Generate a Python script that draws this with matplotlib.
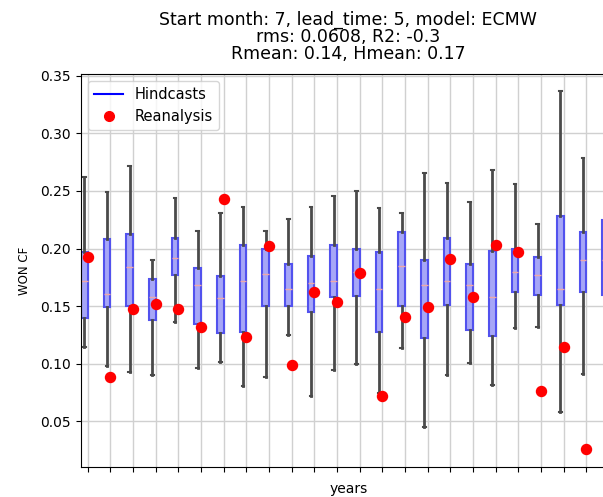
import matplotlib
matplotlib.use("Agg")
import matplotlib.pyplot as plt
from matplotlib.lines import Line2D
import numpy as np

# hindcast ensemble summary per year (whisker low, q1, median, q3, whisker high)
years = np.arange(1993, 2017)
whis_lo = [0.115, 0.098, 0.093, 0.090, 0.136, 0.096, 0.102, 0.081, 0.089, 0.125,
           0.072, 0.095, 0.100, 0.075, 0.114, 0.045, 0.090, 0.101, 0.082, 0.131,
           0.132, 0.058, 0.091, 0.110]
q1 = [0.140, 0.149, 0.150, 0.138, 0.177, 0.135, 0.127, 0.128, 0.150, 0.150,
      0.145, 0.158, 0.159, 0.128, 0.150, 0.122, 0.151, 0.129, 0.124, 0.162,
      0.160, 0.151, 0.162, 0.160]
median = [0.172, 0.161, 0.184, 0.158, 0.192, 0.168, 0.157, 0.172, 0.178, 0.165,
          0.170, 0.172, 0.180, 0.165, 0.185, 0.168, 0.172, 0.168, 0.158, 0.180,
          0.177, 0.165, 0.190, 0.190]
q3 = [0.197, 0.208, 0.213, 0.174, 0.209, 0.183, 0.176, 0.203, 0.200, 0.187,
      0.194, 0.203, 0.200, 0.197, 0.214, 0.190, 0.209, 0.187, 0.198, 0.200,
      0.193, 0.228, 0.214, 0.225]
whis_hi = [0.262, 0.249, 0.272, 0.190, 0.244, 0.215, 0.231, 0.236, 0.215, 0.226,
           0.236, 0.246, 0.250, 0.235, 0.231, 0.266, 0.257, 0.240, 0.268, 0.256,
           0.221, 0.337, 0.279, 0.300]

# reanalysis value per year
reanalysis = [0.193, 0.089, 0.148, 0.152, 0.148, 0.132, 0.243, 0.123, 0.202, 0.099,
              0.162, 0.154, 0.179, 0.072, 0.141, 0.149, 0.191, 0.158, 0.203, 0.197,
              0.076, 0.115, 0.026, 0.093]

title = ("Start month: 7, lead_time: 5, model: ECMW\n"
         "rms: 0.0608, R2: -0.3\n"
         "Rmean: 0.14, Hmean: 0.17")

fig = plt.figure(figsize=(6.03, 4.97), dpi=100)
# axes runs a little past the right edge, as in the reference crop
ax = fig.add_axes([0.134, 0.0604, 0.8876, 0.7907])

stats = []
for i in range(len(years)):
    stats.append({"whislo": whis_lo[i], "q1": q1[i], "med": median[i],
                  "q3": q3[i], "whishi": whis_hi[i], "fliers": []})

pos = np.arange(len(years))
ax.bxp(stats, positions=pos - 0.15, widths=0.3, patch_artist=True,
       showfliers=False, manage_ticks=False,
       boxprops=dict(facecolor="#a6a6f7", edgecolor="#5252ee", linewidth=1.5),
       medianprops=dict(color="#f0a8a8", linewidth=1.0),
       whiskerprops=dict(color="#4a4a4a", linewidth=2.0),
       capprops=dict(color="#4a4a4a", linewidth=1.5),
       capwidths=0.12)

ax.scatter(pos, reanalysis, s=52, color="red", zorder=3, label="Reanalysis")

ax.set_xticks(pos)
ax.set_xticklabels([])
ax.set_xlim(-0.31, len(years) - 1 + 0.31)
ax.set_ylim(0.0105, 0.3515)
ax.set_yticks([0.05, 0.10, 0.15, 0.20, 0.25, 0.30, 0.35])
ax.grid(True, color="#d0d0d0", linewidth=1.0)
ax.set_axisbelow(True)

ax.set_xlabel("years")
ax.set_ylabel("WON CF", fontsize=8.5, labelpad=7)
ax.set_title(title, fontsize=12.5, linespacing=0.95, pad=10.5)

handles = [Line2D([0], [0], color="blue", linewidth=1.5),
           Line2D([0], [0], marker="o", linestyle="none", color="red", markersize=7)]
ax.legend(handles, ["Hindcasts", "Reanalysis"], loc="upper left", fontsize=10.5)

fig.savefig("out.png", dpi=100)
